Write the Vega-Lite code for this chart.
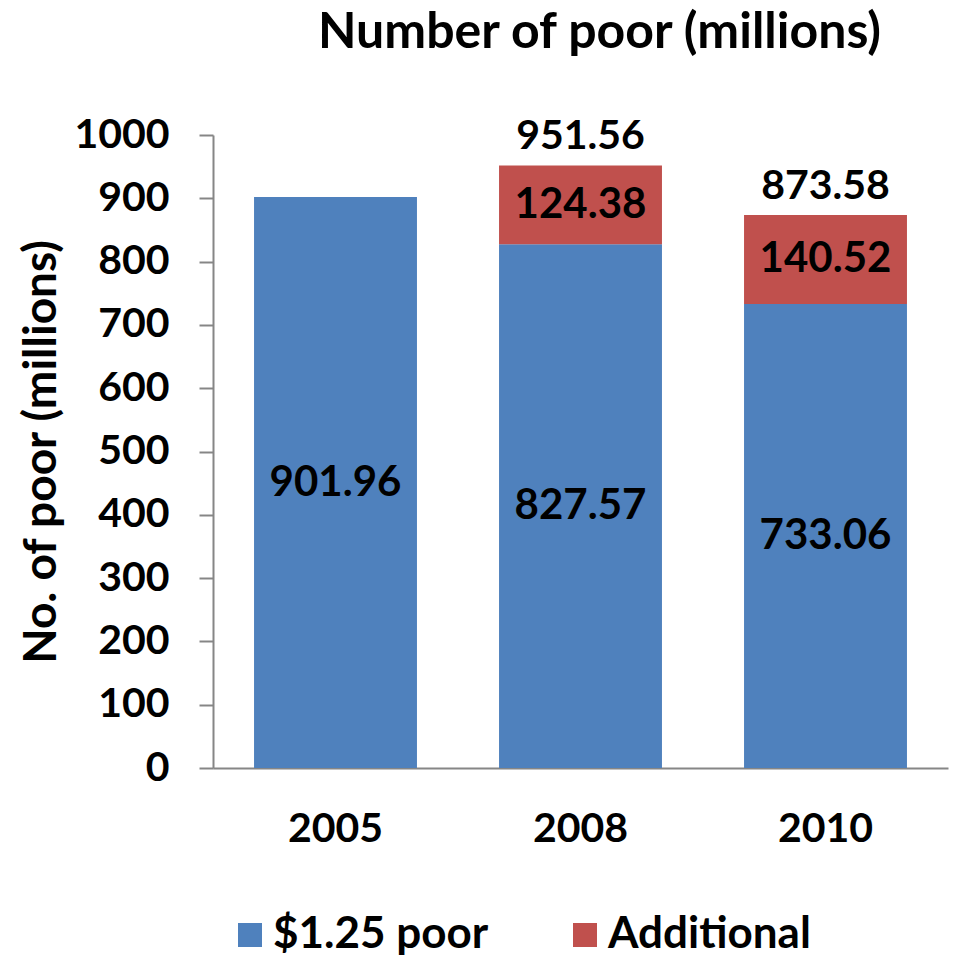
{
  "$schema": "https://vega.github.io/schema/vega-lite/v6.json",
  "width": 735,
  "height": 633,
  "autosize": {"type": "none"},
  "padding": {"left": 213, "top": 135, "right": 6, "bottom": 192},
  "background": "white",
  "config": {
    "view": {"stroke": null},
    "font": "Lato",
    "text": {"font": "Lato"}
  },
  "title": {
    "text": "Number of poor (millions)",
    "font": "Lato",
    "fontSize": 50,
    "fontWeight": "bold",
    "color": "black",
    "anchor": "middle",
    "frame": "group",
    "baseline": "alphabetic",
    "offset": 16,
    "dx": 19
  },
  "data": {
    "values": [
      {"year": "2005", "series": "$1.25 poor", "order": 1, "value": 901.96, "total": null},
      {"year": "2008", "series": "$1.25 poor", "order": 1, "value": 827.57, "total": null},
      {"year": "2008", "series": "Additional", "order": 2, "value": 124.38, "total": 951.56},
      {"year": "2010", "series": "$1.25 poor", "order": 1, "value": 733.06, "total": null},
      {"year": "2010", "series": "Additional", "order": 2, "value": 140.52, "total": 873.58}
    ]
  },
  "transform": [
    {"stack": "value", "groupby": ["year"], "sort": [{"field": "order"}], "as": ["v0", "v1"]}
  ],
  "encoding": {
    "x": {
      "field": "year",
      "type": "nominal",
      "scale": {"paddingInner": 0.335, "paddingOuter": 0.1675},
      "axis": {
        "title": null,
        "labelAngle": 0,
        "labelFont": "Lato",
        "labelFontSize": 41,
        "labelFontWeight": "bold",
        "labelColor": "black",
        "labelPadding": 41,
        "ticks": false,
        "domainColor": "#868686",
        "domainWidth": 2
      }
    }
  },
  "layer": [
    {
      "mark": {"type": "bar"},
      "encoding": {
        "y": {
          "field": "v1",
          "type": "quantitative",
          "scale": {"domain": [0, 1000], "nice": false},
          "axis": {
            "title": "No. of poor (millions)",
            "titleFont": "Lato",
            "titleFontSize": 46,
            "titleFontWeight": "bold",
            "titleColor": "black",
            "titlePadding": 8,
            "values": [0, 100, 200, 300, 400, 500, 600, 700, 800, 900, 1000],
            "format": "d",
            "labelFont": "Lato",
            "labelFontSize": 41,
            "labelFontWeight": "bold",
            "labelColor": "black",
            "labelPadding": 30,
            "tickSize": 14,
            "tickColor": "#868686",
            "tickWidth": 2,
            "domainColor": "#868686",
            "domainWidth": 2,
            "grid": false
          }
        },
        "y2": {"field": "v0"},
        "color": {
          "field": "series",
          "type": "nominal",
          "scale": {"domain": ["$1.25 poor", "Additional"], "range": ["#4F81BD", "#C0504D"]},
          "legend": {
            "title": null,
            "orient": "none",
            "direction": "horizontal",
            "legendX": 15,
            "legendY": 778,
            "symbolType": "square",
            "symbolSize": 576,
            "symbolStrokeWidth": 0,
            "symbolOpacity": 1,
            "labelFont": "Lato",
            "labelFontSize": 44,
            "labelFontWeight": "bold",
            "labelColor": "black",
            "labelOffset": 1,
            "labelLimit": 500,
            "columnPadding": 74
          }
        }
      }
    },
    {
      "transform": [
        {"fold": ["v0", "v1"], "as": ["edge", "pos"]},
        {"aggregate": [{"op": "mean", "field": "pos", "as": "mid"}], "groupby": ["year", "series", "value"]}
      ],
      "mark": {"type": "text", "font": "Lato", "fontSize": 42, "fontWeight": "bold", "color": "black", "baseline": "middle"},
      "encoding": {
        "y": {"field": "mid", "type": "quantitative"},
        "text": {"field": "value", "type": "quantitative", "format": ".2f"}
      }
    },
    {
      "transform": [{"filter": "datum.total != null"}],
      "mark": {"type": "text", "font": "Lato", "fontSize": 41, "fontWeight": "bold", "color": "black", "baseline": "alphabetic", "dy": -16},
      "encoding": {
        "y": {"field": "v1", "type": "quantitative"},
        "text": {"field": "total", "type": "quantitative", "format": ".2f"}
      }
    }
  ]
}
